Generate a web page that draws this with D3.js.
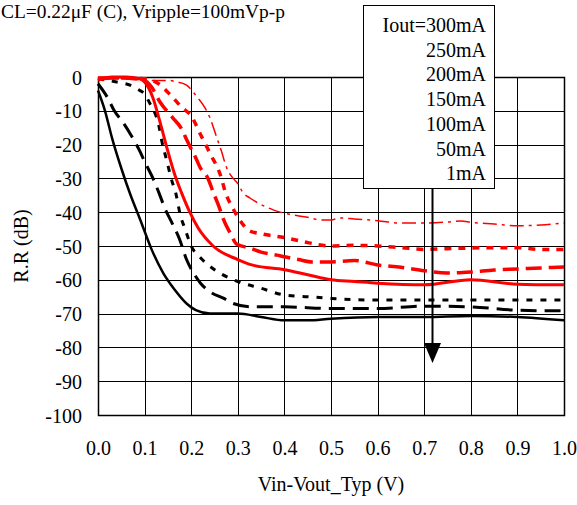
<!DOCTYPE html>
<html>
<head>
<meta charset="utf-8">
<script src="https://cdn.jsdelivr.net/npm/d3@7"></script>
<style>
html,body{margin:0;padding:0;background:#fff;}
svg{display:block;}
</style>
</head>
<body>
<svg id="chart" width="577" height="505"></svg>
<script>
// ---- data ----
const titleText = "CL=0.22\u03bcF (C), Vripple=100mVp-p";
const xTicks = [0.0,0.1,0.2,0.3,0.4,0.5,0.6,0.7,0.8,0.9,1.0];
const yTicks = [0,-10,-20,-30,-40,-50,-60,-70,-80,-90,-100];
const xLabel = "Vin-Vout_Typ (V)";
const yLabel = "R.R (dB)";
const legendLabels = ["Iout=300mA","250mA","200mA","150mA","100mA","50mA","1mA"];

const s1mA = [[0,-4],[0.015,-10],[0.03,-18],[0.05,-27],[0.07,-35],[0.09,-42],[0.115,-51],[0.14,-58],[0.165,-63],[0.19,-67],[0.21,-69],[0.24,-70],[0.3,-70],[0.35,-71],[0.4,-72],[0.45,-72],[0.5,-71.5],[0.6,-71],[0.7,-71],[0.8,-70.7],[0.9,-71],[1.0,-72]];
const s50mA = [[0,-2],[0.02,-6],[0.035,-10],[0.054,-13.5],[0.07,-17],[0.09,-22],[0.1,-25],[0.118,-30],[0.13,-34],[0.144,-39],[0.16,-43.5],[0.175,-48],[0.19,-54],[0.205,-58],[0.22,-61],[0.24,-63.5],[0.27,-65.5],[0.29,-67],[0.33,-68],[0.4,-68],[0.5,-68.5],[0.6,-68.5],[0.7,-67.8],[0.8,-68],[0.9,-69],[1.0,-69.2]];
const s100mA = [[0,-0.5],[0.04,-1.5],[0.07,-2.5],[0.09,-4],[0.1,-5],[0.112,-8],[0.12,-10],[0.13,-14],[0.137,-19],[0.148,-25],[0.157,-30],[0.168,-35],[0.176,-40.5],[0.187,-45],[0.2,-50],[0.22,-53.5],[0.25,-57],[0.3,-60.5],[0.35,-62.5],[0.4,-64.5],[0.45,-65],[0.5,-65.5],[0.6,-66],[0.7,-66],[0.8,-66],[0.9,-66],[1.0,-66]];
const s150mA = [[0,-1],[0.03,0],[0.06,0],[0.09,-0.5],[0.1,-1.5],[0.118,-6.2],[0.133,-13.3],[0.15,-22],[0.165,-29],[0.18,-34.5],[0.197,-40],[0.215,-44.7],[0.247,-50],[0.3,-54],[0.33,-55.6],[0.4,-57],[0.45,-58.5],[0.5,-60],[0.55,-60.5],[0.6,-61],[0.7,-61.5],[0.8,-60],[0.9,-61.3],[1.0,-61.5]];
const s200mA = [[0,-0.5],[0.05,-0.3],[0.1,-1],[0.115,-3],[0.133,-7.4],[0.16,-12],[0.18,-15.5],[0.19,-18.5],[0.21,-24],[0.22,-27],[0.236,-30],[0.247,-34],[0.26,-38.5],[0.268,-41.7],[0.283,-46],[0.298,-49.5],[0.326,-50.6],[0.35,-51.8],[0.384,-52.7],[0.4,-53.2],[0.43,-54],[0.46,-54.7],[0.5,-54.7],[0.55,-54.3],[0.6,-55.6],[0.65,-56.3],[0.7,-57.3],[0.75,-58],[0.8,-57.7],[0.85,-57.1],[0.9,-56.8],[0.95,-56.5],[1.0,-56.2]];
const s250mA = [[0,-0.5],[0.05,-0.3],[0.1,-0.5],[0.13,-2],[0.16,-6],[0.18,-9],[0.2,-11.5],[0.22,-17],[0.24,-22.5],[0.265,-30],[0.272,-33.5],[0.29,-39],[0.305,-42.5],[0.325,-45.5],[0.355,-46.5],[0.4,-47.5],[0.45,-49],[0.5,-50],[0.55,-49.8],[0.6,-50],[0.65,-50.5],[0.7,-51],[0.75,-50.8],[0.8,-50.6],[0.85,-50.5],[0.9,-50.5],[0.95,-51],[1.0,-51]];
const s300mA = [[0,0],[0.05,0],[0.1,-1],[0.15,-1],[0.17,-1.5],[0.19,-2.4],[0.21,-5.5],[0.23,-9.2],[0.24,-12],[0.255,-18],[0.265,-22],[0.275,-26.5],[0.29,-30],[0.3,-31.5],[0.31,-34],[0.326,-35.8],[0.34,-37],[0.376,-39.3],[0.4,-40.3],[0.45,-41.5],[0.48,-42.3],[0.5,-42.3],[0.52,-41.7],[0.55,-42],[0.6,-42.5],[0.65,-43.2],[0.7,-43.2],[0.75,-42.9],[0.78,-42.6],[0.8,-43],[0.85,-43.5],[0.9,-44],[0.95,-43.8],[1.0,-43.2]];

// ---- layout ----
const FONT = "'Liberation Serif','Times New Roman',Times,serif";
const FS = 20;
const svg = d3.select("#chart");
const L = 98, R = 564, T = 77, B = 415;
const x = d3.scaleLinear().domain([0,1]).range([L,R]);
const y = d3.scaleLinear().domain([-100,0]).range([B,T]);

function styleText(sel, fs){
  return sel.style("font-family",FONT).style("font-size",(fs||FS)+"px").style("fill","#000");
}

// grid
const grid = svg.append("g");
grid.selectAll("line.v").data(xTicks).enter().append("line")
  .attr("x1",d=>Math.round(x(d))+0.5).attr("x2",d=>Math.round(x(d))+0.5).attr("y1",T).attr("y2",B)
  .attr("stroke","#000").attr("stroke-width",1);
grid.selectAll("line.h").data(yTicks).enter().append("line")
  .attr("y1",d=>Math.round(y(d))+0.5).attr("y2",d=>Math.round(y(d))+0.5).attr("x1",L).attr("x2",R)
  .attr("stroke","#000").attr("stroke-width",1);
svg.append("rect").attr("x",L+0.5).attr("y",T+0.5).attr("width",R-L).attr("height",B-T)
  .attr("fill","none").attr("stroke","#000").attr("stroke-width",1.5);

// tick labels through d3 axes
const xAxis = svg.append("g").attr("transform",`translate(0,${B})`)
  .call(d3.axisBottom(x).tickValues(xTicks).tickFormat(d3.format(".1f")).tickSize(0).tickPadding(0));
xAxis.selectAll("text").attr("dy",null).attr("y",40);
const yAxis = svg.append("g").attr("transform",`translate(${L},0)`)
  .call(d3.axisLeft(y).tickValues(yTicks).tickFormat(d=>String(d)).tickSize(0).tickPadding(16));
yAxis.selectAll("text").attr("dy","0.35em");
[xAxis,yAxis].forEach(a=>{a.select(".domain").remove(); a.attr("font-family",null).attr("font-size",null);
  styleText(a.selectAll("text"));});

styleText(svg.append("text").attr("x",(L+R)/2).attr("y",491).attr("text-anchor","middle").text(xLabel));
styleText(svg.append("text").attr("transform",`translate(28,${(T+B)/2}) rotate(-90)`).attr("text-anchor","middle").text(yLabel));
styleText(svg.append("text").attr("x",1).attr("y",18).attr("text-anchor","start").text(titleText), 19.4);

// curves
const line = d3.line().x(d=>x(d[0])).y(d=>y(d[1])).curve(d3.curveMonotoneX);
const series = [
  {d:s1mA,   c:"#000", w:2.5, dash:null},
  {d:s50mA,  c:"#000", w:3,   dash:"16,8"},
  {d:s100mA, c:"#000", w:3,   dash:"6,8"},
  {d:s150mA, c:"#f00", w:3,   dash:null},
  {d:s200mA, c:"#f00", w:3.5, dash:"16,7"},
  {d:s250mA, c:"#f00", w:3.5, dash:"7,7"},
  {d:s300mA, c:"#f00", w:1.5, dash:"14,5,3,5"}
];
svg.append("g").selectAll("path").data(series).enter().append("path")
  .attr("d",s=>line(s.d)).attr("fill","none").attr("stroke",s=>s.c)
  .attr("stroke-width",s=>s.w).attr("stroke-dasharray",s=>s.dash);

// legend box
const lg = svg.append("g");
lg.append("rect").attr("x",363.5).attr("y",5.5).attr("width",131).attr("height",183)
  .attr("fill","#fff").attr("stroke","#000").attr("stroke-width",1);
styleText(lg.selectAll("text").data(legendLabels).enter().append("text")
  .attr("x",486).attr("y",(d,i)=>32+i*24.7).attr("text-anchor","end").text(d=>d));

// arrow
svg.append("line").attr("x1",432.5).attr("x2",432.5).attr("y1",188).attr("y2",350)
  .attr("stroke","#000").attr("stroke-width",2);
svg.append("path").attr("d","M424,343 L441,343 L432.5,363 Z").attr("fill","#000");
</script>
</body>
</html>
